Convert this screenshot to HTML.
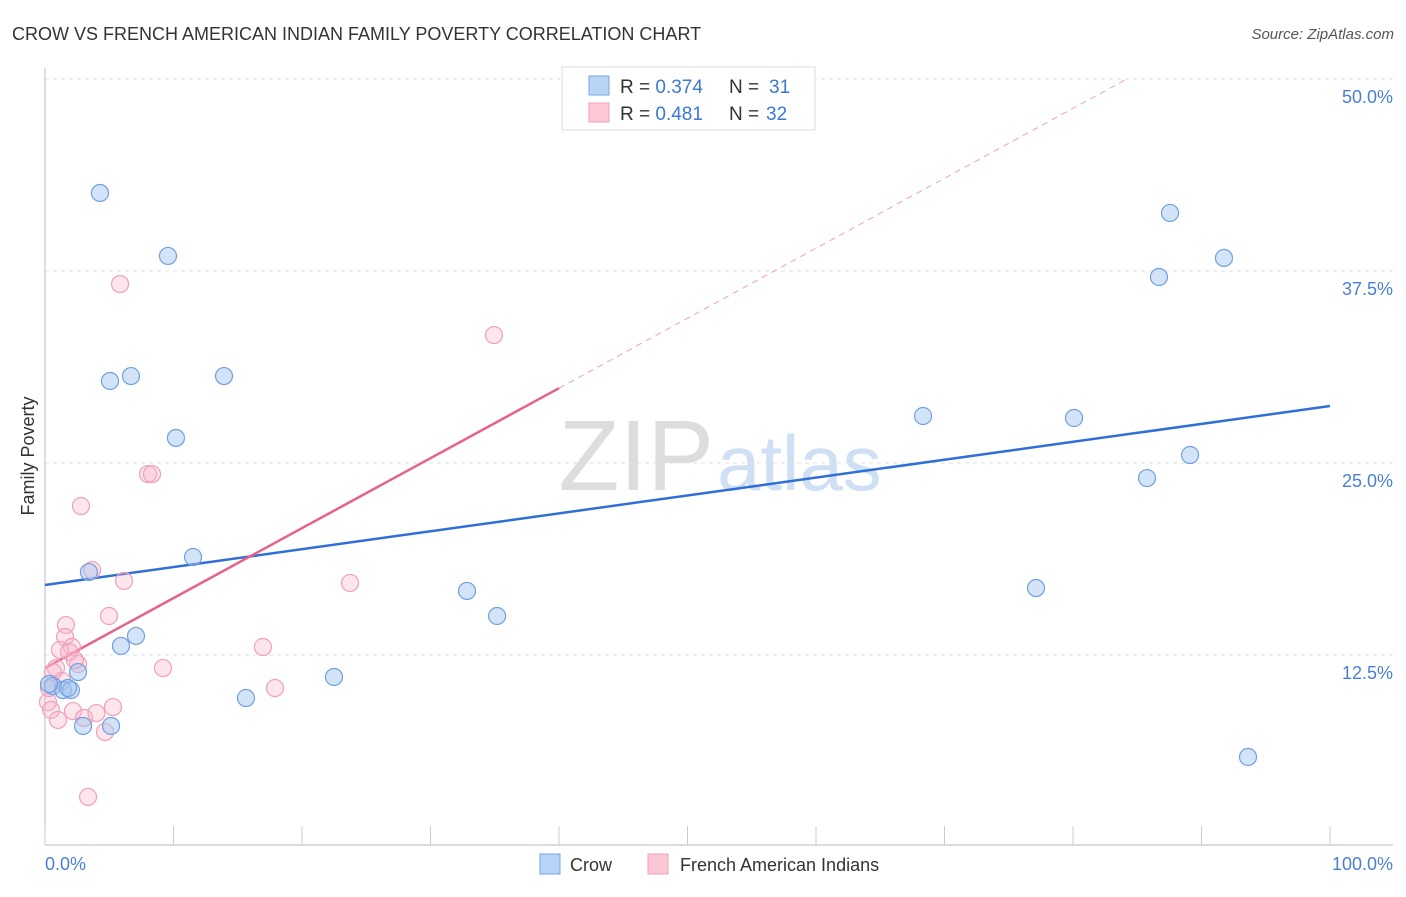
<!DOCTYPE html>
<html><head><meta charset="utf-8"><style>
body{margin:0;background:#fff;font-family:"Liberation Sans",sans-serif;}
svg text{font-family:"Liberation Sans",sans-serif;}
</style></head><body>
<svg width="1406" height="892" xmlns="http://www.w3.org/2000/svg">
<text x="12" y="40" font-size="18" fill="#333">CROW VS FRENCH AMERICAN INDIAN FAMILY POVERTY CORRELATION CHART</text>
<text x="1394" y="39" font-size="15" fill="#555" font-style="italic" text-anchor="end">Source: ZipAtlas.com</text>
<text x="714" y="490" font-size="100" fill="#ddd" text-anchor="end" font-family="Liberation Serif">ZIP</text>
<text x="717" y="490" font-size="78" fill="#cfe0f4">atlas</text>
<g id="grid"></g><g id="axes"></g><g id="lines"></g><g id="pts"></g>
<text transform="translate(34,456) rotate(-90)" font-size="18" fill="#333" text-anchor="middle">Family Poverty</text>
<text x="45" y="870" font-size="18" fill="#4a7fd4">0.0%</text>
<text x="1393" y="870" font-size="18" fill="#4a7fd4" text-anchor="end">100.0%</text>
<g>
<rect x="540" y="854" width="20" height="20" fill="#b8d4f6" stroke="#7aa6e0"/>
<text x="570" y="871" font-size="18" fill="#333">Crow</text>
<rect x="648" y="854" width="20" height="20" fill="#fcc8d6" stroke="#f0a0b8"/>
<text x="680" y="871" font-size="18" fill="#333">French American Indians</text>
</g>
<g>
<rect x="562" y="67" width="253" height="63" fill="#fff" stroke="#ddd"/>
<rect x="589" y="76" width="20" height="19" fill="#b8d4f6" stroke="#7aa6e0"/>
<text x="620" y="93" font-size="19" fill="#333">R = <tspan fill="#3b78d8">0.374</tspan></text>
<text x="729" y="93" font-size="19" fill="#333">N = </text>
<text x="769" y="93" font-size="19" fill="#3b78d8">31</text>
<rect x="589" y="103" width="20" height="19" fill="#fcc8d6" stroke="#f0a0b8"/>
<text x="620" y="120" font-size="19" fill="#333">R = <tspan fill="#3b78d8">0.481</tspan></text>
<text x="729" y="120" font-size="19" fill="#333">N = </text>
<text x="766" y="120" font-size="19" fill="#3b78d8">32</text>
</g>
</svg>
<script>
const crowX=[4.28,9.57,5.06,6.69,13.93,10.19,11.52,3.42,7.08,5.91,2.57,0.62,1.40,2.02,2.96,5.14,15.64,22.49,32.84,35.18,68.33,80.08,85.76,89.11,77.12,86.69,87.55,91.75,93.62,0.31,1.79];
const crowY=[42.58,38.48,30.34,30.66,30.66,26.63,18.88,17.90,13.74,13.09,11.39,10.48,10.22,10.22,7.88,7.88,9.70,11.07,16.67,15.04,28.06,27.93,24.02,25.52,16.86,37.11,41.28,38.35,5.86,10.61,10.35];
const frX=[5.84,34.94,8.02,8.33,2.80,3.66,6.15,23.74,4.98,1.63,1.56,2.10,1.17,2.57,0.86,9.18,16.96,17.90,0.62,1.32,0.23,0.47,1.01,2.18,3.04,4.0,5.29,4.67,3.35,0.31,1.87,2.33];
const frY=[36.65,33.33,24.28,24.28,22.20,18.03,17.32,17.19,15.04,14.45,13.67,13.02,12.83,11.91,11.65,11.65,13.02,10.35,11.39,10.81,9.44,8.92,8.27,8.85,8.40,8.72,9.11,7.49,3.26,10.35,12.70,12.17];
const crowTrend=[17.06,28.71];
const frTrend=[11.65,57.2];
const yTicks=[12.5,25,37.5,50];
const yTickLabels=["12.5%","25.0%","37.5%","50.0%"];
const xTicks=[0,10,20,30,40,50,60,70,80,90,100];
const NS="http://www.w3.org/2000/svg";
const X=v=>45+v*12.85, Y=v=>847-v*15.36;
function mk(parent,tag,attrs){const e=document.createElementNS(NS,tag);for(const k in attrs)e.setAttribute(k,attrs[k]);document.getElementById(parent).appendChild(e);return e;}
yTicks.forEach((t,i)=>{
 const l=mk('grid','line',{x1:45,x2:1393,y1:Y(t),y2:Y(t),stroke:'#e2e2e2','stroke-dasharray':'4,4'});
 
 
 const tx=mk('grid','text',{x:1393,y:Y(t)+24,'font-size':18,fill:'#4a7fd4','text-anchor':'end'});
 tx.textContent=yTickLabels[i];
 
 
});
let a=mk('axes','line',{x1:45,x2:45,y1:68,y2:845,stroke:'#bbb'});


a=mk('axes','line',{x1:45,x2:1393,y1:845,y2:845,stroke:'#bbb'});


xTicks.forEach(t=>{
 const l=mk('axes','line',{x1:X(t),x2:X(t),y1:826,y2:845,stroke:'#ccc'});
 
 
});
let ln=mk('lines','line',{x1:X(0),y1:Y(crowTrend[0]),x2:X(100),y2:Y(crowTrend[1]),stroke:'#2f6fd6','stroke-width':2.5});


const fy=x=>frTrend[0]+(frTrend[1]-frTrend[0])*x/100;
const xEnd=Math.min(100,(50-frTrend[0])/((frTrend[1]-frTrend[0])/100));
ln=mk('lines','line',{x1:X(0),y1:Y(fy(0)),x2:X(40),y2:Y(fy(40)),stroke:'#e8608c','stroke-width':2.5});


ln=mk('lines','line',{x1:X(40),y1:Y(fy(40)),x2:X(xEnd),y2:Y(fy(xEnd)),stroke:'#f0a0b8','stroke-width':1,'stroke-dasharray':'6,5'});


frX.forEach((x,i)=>{
 const c=mk('pts','circle',{cx:X(x),cy:Y(frY[i]),r:8.5,fill:'rgba(248,180,200,0.35)',stroke:'#f0a0b8','stroke-width':1.2});
 
 
});
crowX.forEach((x,i)=>{
 const c=mk('pts','circle',{cx:X(x),cy:Y(crowY[i]),r:8.5,fill:'rgba(160,196,240,0.45)',stroke:'#6fa0e0','stroke-width':1.2});
 
 
});
</script>
</body></html>
